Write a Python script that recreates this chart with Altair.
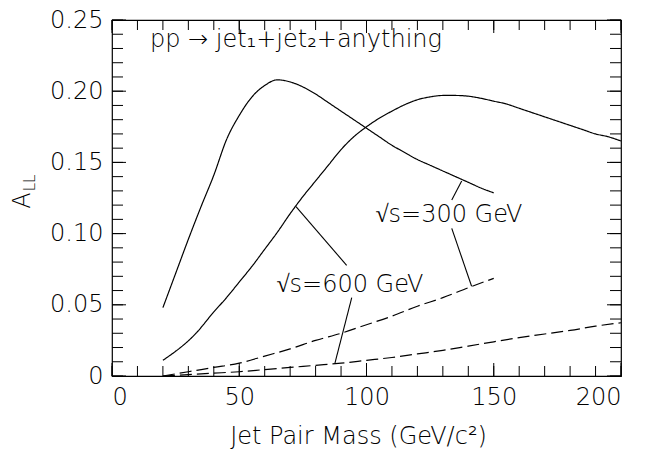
import altair as alt
import pandas as pd

# ---------------- data ----------------
x_s300 = [20, 25, 30, 35, 40, 45, 50, 55, 60, 65, 70, 75, 80, 85, 90, 95, 100, 105, 110, 115,
          120, 125, 130, 135, 140, 145, 150]
y_s300 = [0.048, 0.072, 0.096, 0.119, 0.141, 0.166, 0.183, 0.196, 0.204, 0.208, 0.2065, 0.203,
          0.198, 0.192, 0.186, 0.180, 0.174, 0.168, 0.162, 0.157, 0.152, 0.148, 0.144, 0.140,
          0.136, 0.132, 0.1286]

x_s600 = [20, 33, 40, 45, 50, 55, 60, 65, 70, 75, 80, 85, 90, 95, 100, 105, 110, 115, 120, 125,
          130, 135, 140, 145, 150, 155, 160, 165, 170, 175, 180, 185, 190, 195, 200]
y_s600 = [0.011, 0.030, 0.045, 0.055, 0.066, 0.077, 0.089, 0.101, 0.114, 0.126, 0.137, 0.148,
          0.159, 0.168, 0.175, 0.181, 0.186, 0.1905, 0.194, 0.196, 0.197, 0.197, 0.1965, 0.195,
          0.193, 0.191, 0.188, 0.185, 0.182, 0.179, 0.176, 0.173, 0.170, 0.168, 0.165]

x_d300 = [20, 30, 40, 50, 60, 70, 80, 90, 100, 110, 120, 130, 140, 150]
y_d300 = [0.0, 0.003, 0.006, 0.009, 0.014, 0.019, 0.025, 0.030, 0.036, 0.042, 0.049, 0.055,
          0.062, 0.0686]

x_d600 = [20, 30, 40, 50, 60, 70, 80, 90, 100, 110, 120, 130, 140, 150, 160, 170, 180, 190, 200]
y_d600 = [0.0, 0.001, 0.002, 0.003, 0.0045, 0.006, 0.0075, 0.009, 0.011, 0.013, 0.0155, 0.018,
          0.021, 0.024, 0.027, 0.0295, 0.032, 0.035, 0.0374]

# leader lines (start -> end)
lead_x1 = [72.3, 94.2, 137.4, 133.5]
lead_y1 = [0.119, 0.055, 0.137, 0.1037]
lead_x2 = [92.2, 87.6, 133.5, 141.3]
lead_y2 = [0.0777, 0.009, 0.1236, 0.063]

label_text = ["\u221as=300 GeV", "\u221as=600 GeV"]
label_x = [132.4, 93.5]
label_y = [0.1134, 0.0642]

title_text = ["pp \u2192 jet\u2081+jet\u2082+anything"]
title_x = [14.9]
title_y = [0.231]

x_major = [0, 50, 100, 150, 200]
x_minor = list(range(0, 201, 10))
y_major = [0, 0.05, 0.10, 0.15, 0.20, 0.25]
y_minor = [round(i * 0.01, 2) for i in range(26)]

x_title = "Jet Pair Mass (GeV/c\u00b2)"
y_title = "A"
y_title_sub = ["LL"]

# ---------------- chart ----------------
W, H = 509, 356
FONT = "DejaVu Sans"
FW = 200
FS = 24

xs = alt.Scale(domain=[0, 200], nice=False, zero=False)
ys = alt.Scale(domain=[0, 0.25], nice=False, zero=False)

x_label_axis = alt.Axis(orient="bottom", values=x_major, ticks=False, domain=False, grid=False,
                        labelFont=FONT, labelFontWeight=FW, labelFontSize=FS, labelColor="black",
                        labelPadding=9, labelBaseline="top",
                        title=x_title, titleFont=FONT, titleFontWeight=FW, titleFontSize=FS,
                        titleColor="black", titleX=246, titleY=67, titleAlign="center",
                        titleBaseline="alphabetic", titleAngle=0)
y_label_axis = alt.Axis(orient="left", values=y_major, ticks=False, domain=False, grid=False,
                        labelFont=FONT, labelFontWeight=FW, labelFontSize=FS, labelColor="black",
                        labelPadding=9,
                        labelExpr="datum.value == 0 ? '0' : format(datum.value, '.2f')",
                        title=y_title, titleFont=FONT, titleFontWeight=FW, titleFontSize=FS,
                        titleColor="black", titleX=-90, titleY=180, titleAngle=270,
                        titleAlign="center", titleBaseline="middle")


def line(x, y, dash, xaxis=None, yaxis=None):
    d = pd.DataFrame({"x": x, "y": y})
    m = alt.Chart(d).mark_line(color="black", strokeWidth=1.2,
                               strokeDash=dash, interpolate="monotone")
    return m.encode(
        x=alt.X("x:Q", scale=xs, axis=xaxis),
        y=alt.Y("y:Q", scale=ys, axis=yaxis),
        order="x:Q",
    )


def xticks(values, length, at_top):
    d = pd.DataFrame({"v": values})
    y0, y1 = (0, length) if at_top else (H, H - length)
    return alt.Chart(d).mark_rule(color="black", strokeWidth=1).encode(
        x=alt.X("v:Q", scale=xs, axis=None), y=alt.value(y0), y2=alt.value(y1))


def yticks(values, length, at_right):
    d = pd.DataFrame({"v": values})
    x0, x1 = (W, W - length) if at_right else (0, length)
    return alt.Chart(d).mark_rule(color="black", strokeWidth=1).encode(
        y=alt.Y("v:Q", scale=ys, axis=None), x=alt.value(x0), x2=alt.value(x1))


l1 = line(x_s300, y_s300, [1, 0], x_label_axis, y_label_axis)
l2 = line(x_s600, y_s600, [1, 0])
l3 = line(x_d300, y_d300, [12, 5])
l4 = line(x_d600, y_d600, [12, 5])

ticks = [
    xticks(x_minor, 10, False), xticks(x_major, 13, False),
    xticks(x_minor, 10, True), xticks(x_major, 13, True),
    yticks(y_minor, 11, False), yticks(y_major, 14, False),
    yticks(y_minor, 11, True), yticks(y_major, 14, True),
]

lead_df = pd.DataFrame({"x1": lead_x1, "y1": lead_y1, "x2": lead_x2, "y2": lead_y2})
leaders = alt.Chart(lead_df).mark_rule(color="black", strokeWidth=1.1).encode(
    x=alt.X("x1:Q", scale=xs, axis=None),
    y=alt.Y("y1:Q", scale=ys, axis=None),
    x2="x2:Q",
    y2="y2:Q",
)

lab_df = pd.DataFrame({"t": label_text, "x": label_x, "y": label_y})
labels = alt.Chart(lab_df).mark_text(font=FONT, fontWeight=FW, fontSize=FS, color="black",
                                     align="center", baseline="middle").encode(
    x=alt.X("x:Q", scale=xs, axis=None),
    y=alt.Y("y:Q", scale=ys, axis=None),
    text="t:N",
)

tit_df = pd.DataFrame({"t": title_text, "x": title_x, "y": title_y})
title = alt.Chart(tit_df).mark_text(font=FONT, fontWeight=FW, fontSize=FS, color="black",
                                    align="left", baseline="alphabetic").encode(
    x=alt.X("x:Q", scale=xs, axis=None),
    y=alt.Y("y:Q", scale=ys, axis=None),
    text="t:N",
)

sub_df = pd.DataFrame({"t": y_title_sub})
ysub = alt.Chart(sub_df).mark_text(font=FONT, fontWeight=FW, fontSize=15, color="black",
                                   align="center", baseline="middle", angle=270).encode(
    x=alt.value(-82), y=alt.value(163), text="t:N")

chart = alt.layer(l1, l2, l3, l4, *ticks, leaders, labels, title, ysub).resolve_axis(
    x="independent", y="independent"
).properties(
    width=W, height=H,
    autosize=alt.AutoSizeParams(type="none"),
    padding={"left": 104, "top": 12, "right": 10, "bottom": 73},
    background="white",
).configure_view(stroke="black", strokeWidth=1.2)

chart.save("out.html", embed_options={"renderer": "svg", "actions": False})
